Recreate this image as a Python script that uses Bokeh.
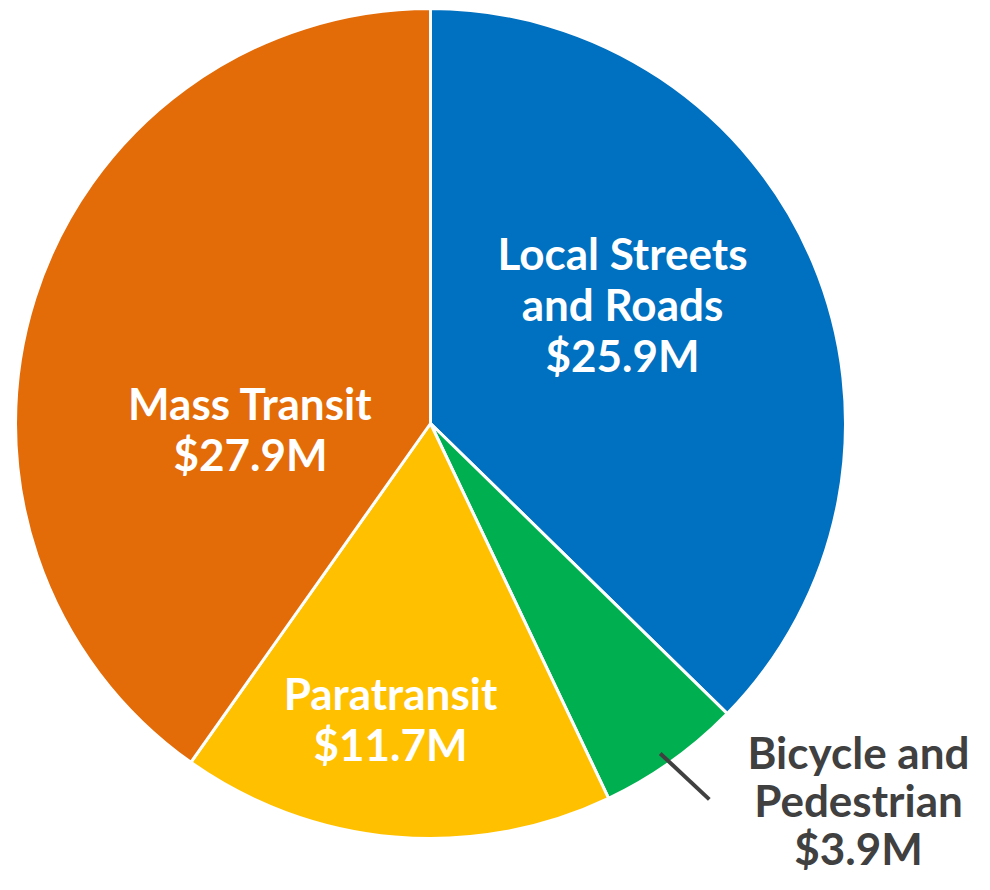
import math
from bokeh.plotting import figure
from bokeh.models import Range1d, ColumnDataSource
from bokeh.core.properties import value
from bokeh.embed import file_html
from bokeh.resources import INLINE

# ---- data ----
categories = ["Local Streets and Roads", "Bicycle and Pedestrian", "Paratransit", "Mass Transit"]
values = [25.9, 3.9, 11.7, 27.9]
value_labels = ["$25.9M", "$3.9M", "$11.7M", "$27.9M"]
label_lines = [["Local Streets", "and Roads"], ["Bicycle and", "Pedestrian"], ["Paratransit"], ["Mass Transit"]]
colors = ["#0070C0", "#00B050", "#FFC000", "#E36C09"]

# ---- layout ----
W, H = 974, 874
CX, CY, R = 430, 451, 415
FONT = "Lato"
FS = 44
LINE_GAP = 51
# label anchor (centre of text block) in plot coordinates
label_pos = [(622, 571), (858, 75), (390, 156), (250, 446)]
label_colors = ["white", "#404040", "white", "white"]
label_gap = [LINE_GAP, 48, LINE_GAP, LINE_GAP]

total = sum(values)
starts, ends = [], []
cum = 0.0
for v in values:
    a0 = math.pi / 2 - 2 * math.pi * (cum + v) / total
    a1 = math.pi / 2 - 2 * math.pi * cum / total
    starts.append(a0)
    ends.append(a1)
    cum += v

p = figure(width=W, height=H, output_backend="svg", toolbar_location=None,
           x_range=Range1d(0, W), y_range=Range1d(0, H), min_border=0)
p.axis.visible = False
p.grid.visible = False
p.outline_line_color = None
p.background_fill_color = "white"
p.border_fill_color = "white"

src = ColumnDataSource(dict(x=[CX] * len(values), y=[CY] * len(values),
                            start=starts, end=ends, color=colors))
p.wedge(x="x", y="y", radius=R, start_angle="start", end_angle="end",
        fill_color="color", line_color="white", line_width=3, source=src)

# leader line for the small slice, near its mid angle
bi = 1
mid = (starts[bi] + ends[bi]) / 2
r_in, r_out = 402, 468
a_in, a_out = mid - 0.012, mid + 0.018
p.segment(x0=[CX + r_in * math.cos(a_in)], y0=[CY + r_in * math.sin(a_in)],
          x1=[CX + r_out * math.cos(a_out)], y1=[CY + r_out * math.sin(a_out)],
          line_color="#404040", line_width=4)

xs, ys, txt, tc = [], [], [], []
for i in range(len(values)):
    lines = label_lines[i] + [value_labels[i]]
    n = len(lines)
    lx, ly = label_pos[i]
    g = label_gap[i]
    for k, t in enumerate(lines):
        xs.append(lx)
        ys.append(ly + (n - 1) / 2 * g - k * g)
        txt.append(t)
        tc.append(label_colors[i])
p.text(x=xs, y=ys, text=txt, text_color=tc, text_font=value(FONT),
       text_font_size=f"{FS}px", text_font_style="bold",
       text_align="center", text_baseline="middle")

open("out.html", "w").write(file_html(p, INLINE))
